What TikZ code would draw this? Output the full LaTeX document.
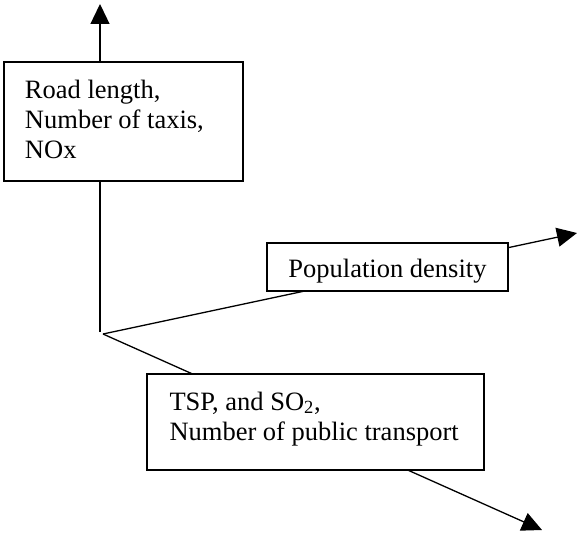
\documentclass[tikz,border=0pt]{standalone}
\usepackage{fontspec}
\setmainfont{Liberation Serif}
\usetikzlibrary{arrows.meta}

\begin{document}
\begin{tikzpicture}[
        x=1bp, y=-1bp,
        line width=1.3bp,
        factor/.style={draw, fill=white, rectangle, inner sep=0pt, align=flush left,
            font=\fontsize{26.5bp}{30bp}\selectfont},
        axis/.style={-{Triangle[length=20bp,width=19bp]}}
    ]
        \useasboundingbox (0,0) rectangle (577,534);
        \coordinate (bend) at (100,332);
        \coordinate (origin) at (103,334);
        \coordinate (up) at (100,4);
        \coordinate (right) at (577,233);
        \coordinate (down) at (542,530);
        \draw[axis] (bend) -- (up);
        \draw[axis] (origin) -- (right);
        \draw[axis] (origin) -- (down);
        \node[factor, minimum width=239bp, minimum height=119bp, text width=197bp, text depth=64bp]
            (road) at (123.5,121.5) {Road length,\\Number of taxis,\\NOx};
        \node[factor, minimum width=241bp, minimum height=48bp, text height=20bp, text depth=0pt]
            (density) at (387.5,267) {Population density};
        \node[factor, minimum width=337bp, minimum height=96bp, text width=292bp, text depth=42bp]
            (transport) at (315.5,422) {TSP, and SO\textsubscript{2},\\Number of public transport};
    \end{tikzpicture}
\end{document}
